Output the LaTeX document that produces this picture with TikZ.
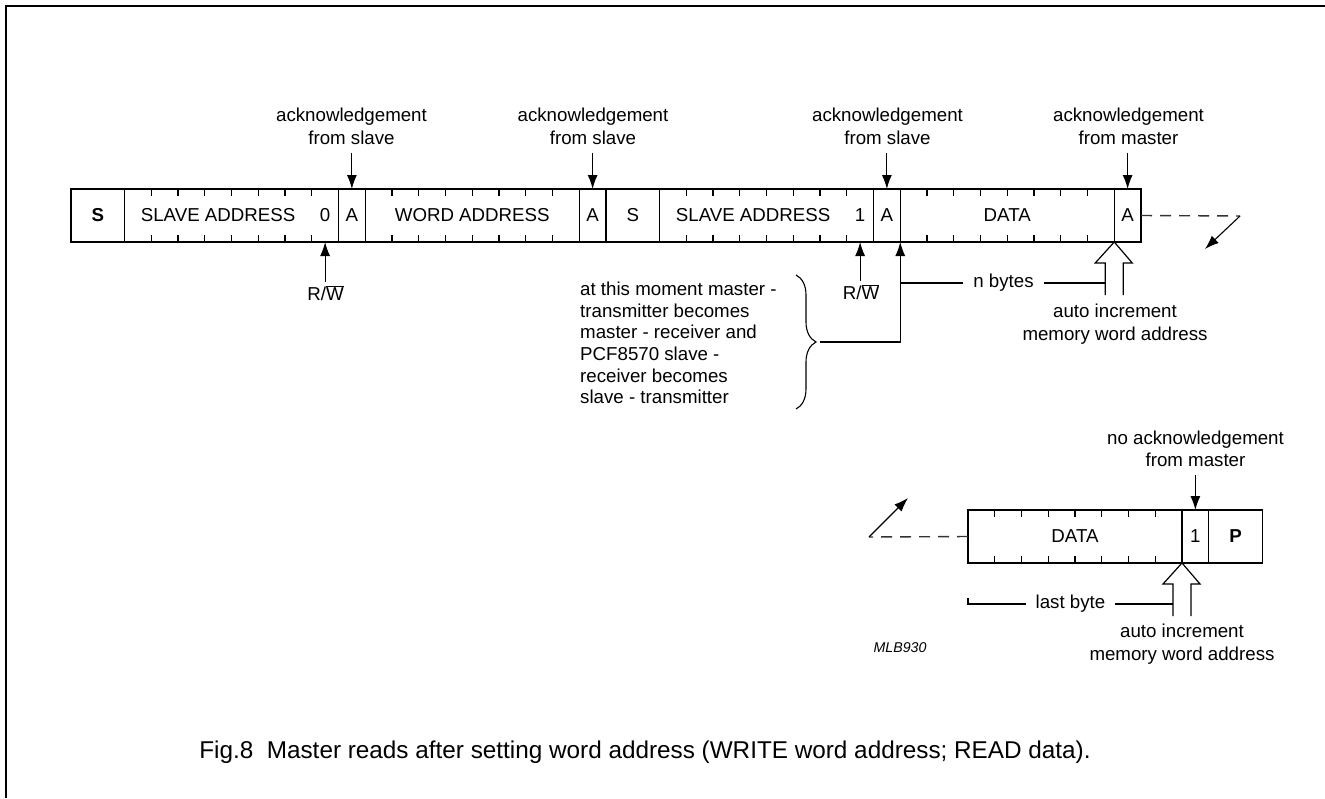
\documentclass[tikz,border=0pt]{standalone}
\usepackage{fontspec}
\setmainfont{Liberation Sans}
\usetikzlibrary{positioning,arrows.meta,decorations.pathreplacing}

\newcommand{\bw}{26.75}

\begin{document}
\begin{tikzpicture}[x=1pt, y=-1pt,
    every node/.style={font=\fontsize{18.7pt}{22.5pt}\selectfont},
    cell/.style={rectangle, draw=black, line width=1.3pt, minimum height=53pt, inner sep=0pt, outer sep=0pt},
    tick/.style={line width=1.2pt},
    arr/.style={line width=1.1pt, -{Latex[length=14pt, width=10pt]}},
    dashline/.style={line width=1.4pt, black!80, dash pattern=on 11pt off 8pt},
    hollow/.style={line width=1.2pt, line join=miter},
    note/.style={align=center, inner sep=0pt},
    node distance=0pt]

    \useasboundingbox (0,0) rectangle (1325,798);

    % Frame
    \draw[line width=2pt] (6,798) -- (6,6) -- (1325,6);

    % First row of fields
    \node[cell, minimum width=2*\bw, anchor=west] (s1) at (71,215.5) {\textbf{S}};
    \node[cell, minimum width=8*\bw, right=of s1] (sa1) {};
    \node[cell, minimum width=\bw, right=of sa1] (a1) {A};
    \node[cell, minimum width=8*\bw, right=of a1] (wa) {WORD ADDRESS};
    \node[cell, minimum width=\bw, right=of wa] (a2) {A};
    \node[cell, minimum width=2*\bw, right=of a2] (s2) {S};
    \node[cell, minimum width=8*\bw, right=of s2] (sa2) {};
    \node[cell, minimum width=\bw, right=of sa2] (a3) {A};
    \node[cell, minimum width=8*\bw, right=of a3] (data1) {DATA};
    \node[cell, minimum width=\bw, right=of data1] (a4) {A};

    \node (sa1txt) at ([xshift={3.5*\bw}]sa1.west) {SLAVE ADDRESS};
    \node (rwbit1) at ([xshift={-0.5*\bw}]sa1.east) {0};
    \node (sa2txt) at ([xshift={3.5*\bw}]sa2.west) {SLAVE ADDRESS};
    \node (rwbit2) at ([xshift={-0.5*\bw}]sa2.east) {1};

    % Second row of fields
    \node[cell, minimum width=8*\bw, anchor=west] (data2) at (968,536.5) {DATA};
    \node[cell, minimum width=\bw, right=of data2] (nack) {1};
    \node[cell, minimum width=2*\bw, right=of nack] (p1) {\textbf{P}};

    % Bit ticks
    \foreach \f in {sa1, wa, sa2, data1, data2} {
        \foreach \k in {1,...,7} {
            \draw[tick] ([xshift={\k*\bw}]\f.north west) -- ++(0,7);
            \draw[tick] ([xshift={\k*\bw}]\f.south west) -- ++(0,-7);
        }
    }

    % Acknowledge labels
    \node[note] (ack1) at (351.5,126.5) {acknowledgement\\from slave};
    \node[note] (ack2) at (593,126.5) {acknowledgement\\from slave};
    \node[note] (ack3) at (887.5,126.5) {acknowledgement\\from slave};
    \node[note] (ack4) at (1128.5,126.5) {acknowledgement\\from master};
    \node[note] (noack) at (1195.5,449) {no acknowledgement\\from master};
    \draw[arr, shorten <=8pt] (ack1.south -| a1.north) -- (a1.north);
    \draw[arr, shorten <=8pt] (ack2.south -| a2.north) -- (a2.north);
    \draw[arr, shorten <=8pt] (ack3.south -| a3.north) -- (a3.north);
    \draw[arr, shorten <=8pt] (ack4.south -| a4.north) -- (a4.north);
    \draw[arr, shorten <=8pt] (noack.south -| nack.north) -- (nack.north);

    % R/W bits
    \node (rw1) at (325.5,293) {R/$\overline{\hbox{W}}$};
    \node (rw2) at (861,292) {R/$\overline{\hbox{W}}$};
    \draw[arr] (rw1.north -| rwbit1) -- (rwbit1 |- sa1.south);
    \draw[arr] (rw2.north -| rwbit2) -- (rwbit2 |- sa2.south);

    % Direction change note
    \node[align=left, anchor=west, inner sep=0pt, font=\fontsize{18.7pt}{21.6pt}\selectfont] (turn) at (580,343)
        {at this moment master -\\transmitter becomes\\master - receiver and\\PCF8570 slave -\\receiver becomes\\slave - transmitter};
    \draw[line width=1.1pt, decorate, decoration={brace, amplitude=20pt}] (796,275) -- (796,409);
    \coordinate (btip) at (820,342);
    \draw[arr] (btip) -| (a3.south east);

    % n bytes
    \coordinate (nbL) at (901,283);
    \coordinate (nbR) at (1106,283);
    \draw[line width=1.1pt] (nbL) -- node[fill=white, inner xsep=10pt, inner ysep=0pt] (nbytes) {n bytes} (nbR);
    \draw[hollow] (data1.south east) ++(-9,53) -- ++(0,-32) -- ++(-10,0) -- ++(19,-21) -- ++(18,21) -- ++(-9,0) -- ++(0,32);
    \node[note] (inc1) at (1115,324) {auto increment\\memory word address};

    % last byte
    \coordinate (lbT) at (968,598);
    \coordinate (lbL) at (968,604);
    \coordinate (lbR) at (1173,604);
    \draw[line width=1.1pt] (lbT) -- (lbL) -- node[fill=white, inner xsep=10pt, inner ysep=0pt] (lastbyte) {last byte} (lbR);
    \draw[hollow] (nack.south west) ++(-9,53) -- ++(0,-32) -- ++(-10,0) -- ++(19,-21) -- ++(18,21) -- ++(-9,0) -- ++(0,32);
    \node[note] (inc2) at (1182,644) {auto increment\\memory word address};

    % Continuation marks
    \coordinate (cont1) at (1240,216);
    \coordinate (cont1end) at (1205,249);
    \draw[dashline] (a4.east) -- (cont1);
    \draw[arr] (cont1) -- (cont1end);
    \coordinate (cont2) at (869,537);
    \coordinate (cont2end) at (908,498);
    \draw[dashline] (data2.west) -- (cont2);
    \draw[arr] (cont2) -- (cont2end);

    \node[font=\fontsize{14.2pt}{16pt}\selectfont\itshape] (mlb) at (900,648) {MLB930};

    % Caption
    \node[font=\fontsize{24.3pt}{28pt}\selectfont] (caption) at (645,752) {Fig.8\ \ Master reads after setting word address (WRITE word address; READ data).};

\end{tikzpicture}
\end{document}
